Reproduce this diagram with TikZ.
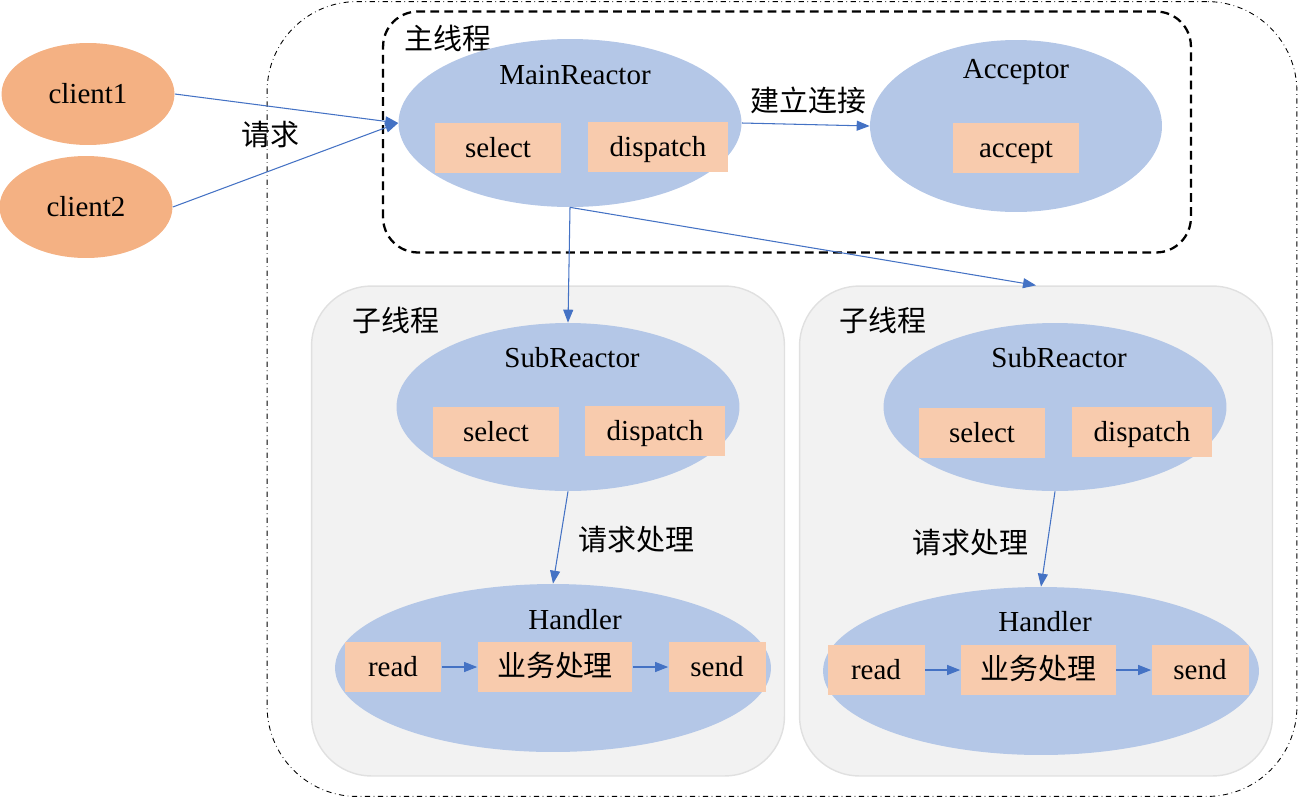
\documentclass[tikz,border=0pt]{standalone}
\usepackage{fontspec}
\setmainfont{Liberation Serif}
\newfontfamily\cjk{Noto Sans CJK SC}
\usetikzlibrary{shapes.geometric,arrows.meta}

\definecolor{clientorange}{HTML}{F4B183}
\definecolor{reactorblue}{HTML}{B4C7E7}
\definecolor{oppeach}{HTML}{F8CBAD}
\definecolor{flowblue}{HTML}{4472C4}
\definecolor{threadgray}{HTML}{F2F2F2}
\definecolor{threadedge}{HTML}{E0E0E0}

\tikzset{
    client/.style={ellipse, fill=clientorange, inner sep=0pt, minimum width=3.46cm, minimum height=2.04cm},
    reactor/.style={ellipse, fill=reactorblue, inner sep=0pt, minimum width=6.86cm, minimum height=3.36cm},
    handler/.style={ellipse, fill=reactorblue, inner sep=0pt, minimum width=8.72cm, minimum height=3.36cm},
    op/.style={fill=oppeach, inner sep=0pt, minimum height=1cm, text height=14pt, text depth=3.2pt},
    thread/.style={rectangle, rounded corners=1.2cm, fill=threadgray, draw=threadedge, line width=0.8pt, minimum width=9.46cm, minimum height=9.8cm},
    flow/.style={draw=flowblue, line width=0.6pt, -{Triangle[length=0.26cm, width=0.2cm]}}
}

\begin{document}
\begin{tikzpicture}[x=0.02cm, y=-0.02cm, font=\fontsize{16.5pt}{19pt}\selectfont]
    \useasboundingbox (0, 0) rectangle (1300, 798);

    % outer frame and thread groups
    \node[rectangle, draw, dash dot, line width=0.5pt, rounded corners=1.8cm, minimum width=20.6cm, minimum height=15.9cm] (frame) at (782, 399) {};
    \node[thread] (lthread) at (548, 531) {};
    \node[thread] (rthread) at (1036, 531) {};
    \node[rectangle, draw, dashed, dash pattern=on 5pt off 3pt, line width=1.3pt, rounded corners=0.7cm, minimum width=16.16cm, minimum height=4.82cm] (mainthread) at (787, 132) {};
    \node (mainlabel) at (448, 38) {\cjk 主线程};
    \node (llabel) at (396, 320) {\cjk 子线程};
    \node (rlabel) at (883, 320) {\cjk 子线程};

    % clients
    \node[client] (c1) at (88, 94) {client1};
    \node[client] (c2) at (86, 207) {client2};

    % main reactor and acceptor
    \node[reactor] (mainR) at (570, 123) {};
    \node (mainRname) at (575, 75) {MainReactor};
    \node[op, minimum width=2.52cm] (mselect) at (498, 148) {select};
    \node[op, minimum width=2.8cm] (mdispatch) at (658, 147) {dispatch};
    \node[ellipse, fill=reactorblue, inner sep=0pt, minimum width=5.84cm, minimum height=3.44cm] (acc) at (1016, 126) {};
    \node (accname) at (1016, 72) {Acceptor};
    \node[op, minimum width=2.52cm] (accept) at (1016, 148) {accept};

    % left sub reactor
    \node[reactor] (lsub) at (568, 407) {};
    \node (lsubname) at (572, 358) {SubReactor};
    \node[op, minimum width=2.52cm] (lselect) at (496, 432) {select};
    \node[op, minimum width=2.8cm] (ldispatch) at (655, 431) {dispatch};
    \node[handler] (lhand) at (553, 668) {};
    \node (lhandname) at (575, 620) {Handler};
    \node[op, minimum width=1.94cm] (lread) at (393, 667) {read};
    \node[op, minimum width=3.1cm] (lbiz) at (555, 667) {\cjk 业务处理};
    \node[op, minimum width=1.94cm] (lsend) at (717, 667) {send};

    % right sub reactor
    \node[reactor] (rsub) at (1055, 407) {};
    \node (rsubname) at (1059, 358) {SubReactor};
    \node[op, minimum width=2.52cm] (rselect) at (982, 433) {select};
    \node[op, minimum width=2.8cm] (rdispatch) at (1142, 432) {dispatch};
    \node[handler] (rhand) at (1041, 671) {};
    \node (rhandname) at (1045, 622) {Handler};
    \node[op, minimum width=1.94cm] (rread) at (876, 670) {read};
    \node[op, minimum width=3.1cm] (rbiz) at (1038, 670) {\cjk 业务处理};
    \node[op, minimum width=1.94cm] (rsend) at (1200, 670) {send};

    % connections
    \draw[flow] (c1.east) -- (mainR.west);
    \draw[flow] (c2.east) -- (mainR.west);
    \node (req) at (270, 135) {\cjk 请求};
    \draw[flow] (mainR.east) -- (acc.west);
    \node (conn) at (808, 100) {\cjk 建立连接};
    \draw[flow] (mainR.south) -- (lsub.north);
    \draw[flow] (mainR.south) -- (rthread.north);
    \draw[flow] (lsub.south) -- (lhand.north);
    \node (lreq) at (636, 540) {\cjk 请求处理};
    \draw[flow] (rsub.south) -- (rhand.north);
    \node (rreq) at (970, 543) {\cjk 请求处理};
    \draw[flow] (lread) -- (lbiz);
    \draw[flow] (lbiz) -- (lsend);
    \draw[flow] (rread) -- (rbiz);
    \draw[flow] (rbiz) -- (rsend);
\end{tikzpicture}
\end{document}
